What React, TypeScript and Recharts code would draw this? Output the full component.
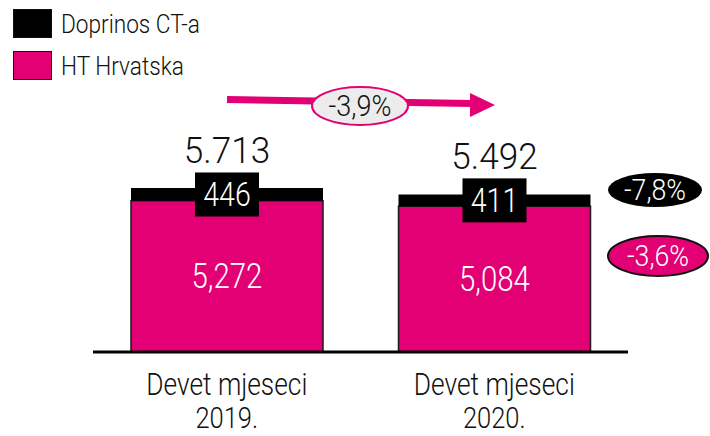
import { BarChart, Bar, XAxis, YAxis, LabelList, Customized } from 'recharts'

const periods = ['Devet mjeseci 2019.', 'Devet mjeseci 2020.']
const htHrvatska = [5272, 5084]
const doprinosCT = [446, 411]
const totals = [5713, 5492]

const seriesNames = { ct: 'Doprinos CT-a', ht: 'HT Hrvatska' }

const MAGENTA = '#e20074'
const FONT = "Roboto, 'Liberation Sans', sans-serif"
const SQUEEZE = 0.84

const data = periods.map((p, i) => ({
    period: p,
    ht: htHrvatska[i],
    ct: doprinosCT[i],
    total: totals[i],
}))

const pct = (a: number, b: number) => `${((b - a) / a * 100).toFixed(1).replace('.', ',')}%`
const totalChange = pct(totals[0], totals[1])
const ctChange = pct(doprinosCT[0], doprinosCT[1])
const htChange = pct(htHrvatska[0], htHrvatska[1])

const commaFmt = (v: number) => v.toLocaleString('en-US')
const dotFmt = (v: number) => v.toLocaleString('en-US').replace(',', '.')

// narrow text: light face squeezed horizontally
function NText({ x, y, size, fill = '#111', sx = SQUEEZE, children }: any) {
    return (
        <text
            transform={`translate(${x},${y}) scale(${sx},1)`}
            textAnchor="middle"
            fontSize={size}
            fontWeight={300}
            fill={fill}
            fontFamily={FONT}
        >
            {children}
        </text>
    )
}

function PeriodTick(props: any) {
    const { x, y, payload } = props
    const parts = String(payload.value).split(' ')
    const line2 = parts.pop()
    return (
        <g>
            <NText x={x} y={y + 43} size={31} sx={0.85}>{parts.join(' ')}</NText>
            <NText x={x} y={y + 76} size={29} sx={0.88}>{line2}</NText>
        </g>
    )
}

function HtLabel(props: any) {
    const { x, y, width, height, value } = props
    return <NText x={x + width / 2} y={y + height / 2 + 12} size={35} fill="#fff">{commaFmt(value)}</NText>
}

function CtLabel(props: any) {
    const { x, y, width, height, value } = props
    const cx = x + width / 2
    const cy = y + height / 2
    return (
        <g>
            <rect x={cx - 32} y={cy - 22} width={64} height={44} fill="#000" />
            <NText x={cx} y={cy + 12} size={34} fill="#fff">{value}</NText>
        </g>
    )
}

function TotalLabel(props: any) {
    const { x, y, width, value } = props
    return <NText x={x + width / 2} y={y - 25} size={37} sx={0.95}>{dotFmt(value)}</NText>
}

function Annotations() {
    return (
        <g>
            {/* growth arrow */}
            <line x1={227} y1={99.5} x2={472} y2={103.5} stroke={MAGENTA} strokeWidth={7} />
            <polygon points="470,93 495,105 470,117" fill={MAGENTA} />
            <ellipse cx={360} cy={106} rx={48} ry={19} fill="#ececec" stroke={MAGENTA} strokeWidth={2} />
            <NText x={360} y={116} size={30} sx={0.9}>{totalChange}</NText>
            {/* per-segment changes */}
            <ellipse cx={655} cy={190} rx={47} ry={17} fill="#000" />
            <NText x={655} y={200} size={29} sx={0.92} fill="#fff">{ctChange}</NText>
            <ellipse cx={658} cy={256} rx={50} ry={20} fill={MAGENTA} stroke="#111" strokeWidth={2} />
            <NText x={658} y={266} size={29} sx={0.92} fill="#fff">{htChange}</NText>
        </g>
    )
}

export default function App() {
    const legendItems = [
        { name: seriesNames.ct, color: '#000' },
        { name: seriesNames.ht, color: MAGENTA },
    ]
    return (
        <div style={{ position: 'absolute', left: 0, top: 0, width: 710, height: 436, background: '#fff' }}>
            <div style={{ position: 'absolute', left: 13, top: 9, fontFamily: FONT, fontWeight: 300, fontSize: 26, color: '#111', zIndex: 2 }}>
                {legendItems.map((it) => (
                    <div key={it.name} style={{ display: 'flex', alignItems: 'center', height: 29, marginBottom: 13 }}>
                        <span style={{ width: 37, height: 27, background: it.color, border: '1px solid #111', marginRight: 9, flex: 'none' }} />
                        <span style={{ display: 'inline-block', transform: 'scaleX(0.87)', transformOrigin: 'left center', whiteSpace: 'nowrap' }}>{it.name}</span>
                    </div>
                ))}
            </div>
            <BarChart width={710} height={436} data={data} margin={{ top: 180, right: 82, bottom: 0, left: 93 }} barCategoryGap={0}>
                <XAxis
                    dataKey="period"
                    height={84}
                    axisLine={{ stroke: '#000', strokeWidth: 3 }}
                    tickLine={false}
                    tickSize={0}
                    tickMargin={0}
                    tick={<PeriodTick />}
                    interval={0}
                />
                <YAxis hide domain={[0, 6000]} />
                <Bar dataKey="ht" stackId="a" fill={MAGENTA} stroke="#1a1a1a" strokeWidth={1.5} barSize={192} isAnimationActive={false}>
                    <LabelList dataKey="ht" content={<HtLabel />} />
                </Bar>
                <Bar dataKey="ct" stackId="a" fill="#000" barSize={192} isAnimationActive={false}>
                    <LabelList dataKey="ct" content={<CtLabel />} />
                    <LabelList dataKey="total" content={<TotalLabel />} />
                </Bar>
                <Customized component={<Annotations />} />
            </BarChart>
        </div>
    )
}
